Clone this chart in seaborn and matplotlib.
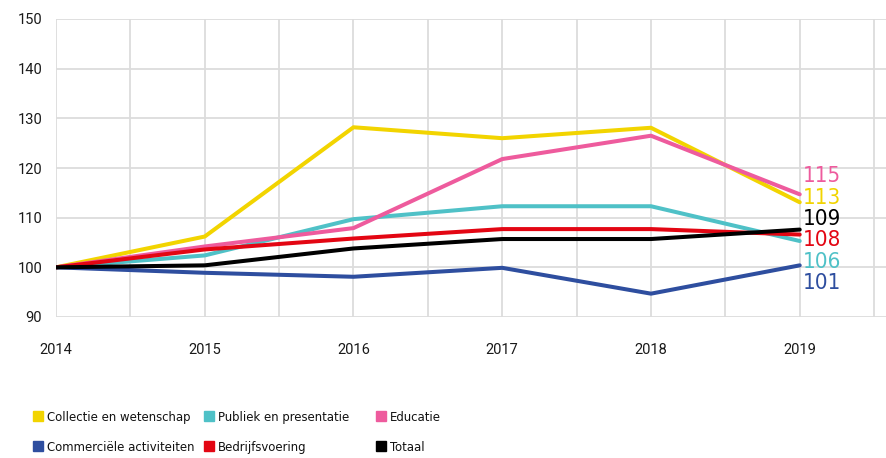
import numpy as np
import pandas as pd
import seaborn as sns
import matplotlib.pyplot as plt
from matplotlib.lines import Line2D
from matplotlib.ticker import MultipleLocator

############################## Data ##############################
years = [2014, 2015, 2016, 2017, 2018, 2019]
series_names = ['Collectie en wetenschap', 'Publiek en presentatie', 'Educatie',
                'Commerciële activiteiten', 'Bedrijfsvoering', 'Totaal']
collectie = [100, 106.2, 128.2, 126.0, 128.1, 113.1]
publiek = [100, 102.4, 109.7, 112.3, 112.3, 105.3]
educatie = [100, 104.2, 107.9, 121.8, 126.5, 114.7]
commercieel = [100, 98.9, 98.1, 99.9, 94.7, 100.4]
bedrijf = [100, 103.6, 105.8, 107.7, 107.7, 106.6]
totaal = [100, 100.4, 103.8, 105.7, 105.7, 107.6]
end_labels = ['113', '106', '115', '101', '108', '109']
label_order = [2, 0, 5, 4, 1, 3]  # top to bottom stacking at 2019
colors = ['#f2d400', '#4fc1c7', '#ee5b9d', '#2e4e9f', '#e30613', '#000000']

values = [collectie, publiek, educatie, commercieel, bedrijf, totaal]
df = pd.DataFrame({
    'jaar': np.tile(years, len(series_names)),
    'index': np.concatenate(values),
    'reeks': np.repeat(series_names, len(years)),
})

############################## Plotting ##############################
sns.set_theme(style='white')
plt.rcParams['font.family'] = ['Roboto', 'DejaVu Sans']

fig = plt.figure(figsize=(8.86, 4.58), dpi=100)
ax = fig.add_axes([56 / 886, 1 - 317 / 458, 830 / 886, 298 / 458])

sns.lineplot(data=df, x='jaar', y='index', hue='reeks', hue_order=series_names,
             palette=colors, linewidth=2.9, legend=False, ax=ax, zorder=3)

ax.set_xlim(2014, 2019.58)
ax.set_ylim(90, 150)
ax.set_yticks(range(90, 151, 10))
ax.set_xticks(years)
ax.xaxis.set_minor_locator(MultipleLocator(0.5))
ax.grid(True, which='both', axis='x', color='#dcdcdc', linewidth=1.3, zorder=0)
ax.grid(True, which='major', axis='y', color='#dcdcdc', linewidth=1.3, zorder=0)
for s in ax.spines.values():
    s.set_visible(False)
ax.tick_params(axis='both', which='both', length=0, labelsize=10.5, colors='#1a1a1a')
ax.tick_params(axis='x', pad=19)
ax.tick_params(axis='y', pad=10)
ax.set_xlabel('')
ax.set_ylabel('')

# end labels stacked next to 2019
y0 = 118.3
for k, i in enumerate(label_order):
    ax.text(2019.02, y0 - k * 4.29, end_labels[i], color=colors[i], fontsize=16,
            ha='left', va='center', fontfamily='DejaVu Sans', fontstretch='condensed',
            fontweight='light', clip_on=False)

# legend: three columns placed separately
col_x = [33, 204, 376]
for c in range(3):
    idx = [c, c + 3]
    handles = [Line2D([], [], marker='s', linestyle='', markersize=7.5, color=colors[i]) for i in idx]
    leg = fig.legend(handles, [series_names[i] for i in idx], loc='upper left',
                     bbox_to_anchor=(col_x[c] / 886, 1 - 411 / 458),
                     frameon=False, handletextpad=0.25, labelspacing=1.3,
                     borderpad=0, borderaxespad=0, handlelength=0.8,
                     prop={'family': 'DejaVu Sans', 'stretch': 'condensed', 'size': 9.4})
    for t in leg.get_texts():
        t.set_color('#111111')

plt.savefig('out.png', dpi=100)
